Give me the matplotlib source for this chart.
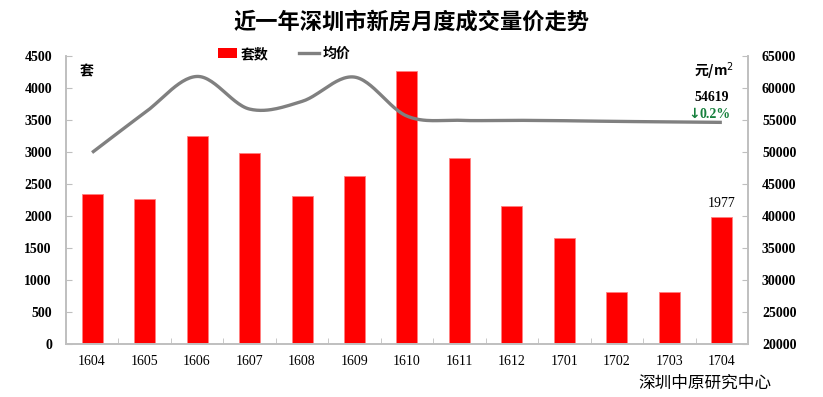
import numpy as np
import matplotlib
matplotlib.use('Agg')
import matplotlib.pyplot as plt
from matplotlib.lines import Line2D
from matplotlib.patches import Patch

plt.rcParams['font.family'] = ['Noto Sans CJK SC', 'DejaVu Sans']

# data
months = ['1604', '1605', '1606', '1607', '1608', '1609', '1610',
          '1611', '1612', '1701', '1702', '1703', '1704']
units = [2348, 2270, 3250, 2989, 2306, 2625, 4266,
         2911, 2161, 1661, 806, 806, 1977]
price = [49900, 56100, 61800, 56700, 57900, 61700, 55600,
         54940, 54940, 54880, 54770, 54700, 54619]


def smooth(xs, ys, n=30):
    # catmull-rom style smoothing, like excel's smoothed line
    xs = np.asarray(xs, float)
    ys = np.asarray(ys, float)
    px = np.concatenate([[2 * xs[0] - xs[1]], xs, [2 * xs[-1] - xs[-2]]])
    py = np.concatenate([[2 * ys[0] - ys[1]], ys, [2 * ys[-1] - ys[-2]]])
    outx, outy = [], []
    t = np.linspace(0, 1, n)
    for i in range(1, len(px) - 2):
        for p, out in ((px, outx), (py, outy)):
            p0, p1, p2, p3 = p[i - 1], p[i], p[i + 1], p[i + 2]
            out.extend(0.5 * ((2 * p1) + (-p0 + p2) * t
                              + (2 * p0 - 5 * p1 + 4 * p2 - p3) * t ** 2
                              + (-p0 + 3 * p1 - 3 * p2 + p3) * t ** 3))
    return np.array(outx), np.array(outy)


fig = plt.figure(figsize=(8.23, 3.97), dpi=100)
ax = fig.add_axes([0.080, 0.134, 0.829, 0.725])
ax2 = ax.twinx()

x = np.arange(len(months))
ax.bar(x, units, width=0.4, color='#FF0000', edgecolor='#FF8080', linewidth=0.6, zorder=2)
sx, sy = smooth(x, price)
ax2.plot(sx, sy, color='#808080', linewidth=2.4, solid_capstyle='butt', zorder=3)

ax.set_xlim(-0.5, len(months) - 0.5)
ax.set_ylim(0, 4500)
ax2.set_ylim(20000, 65000)
ax.set_yticks(np.arange(0, 4501, 500))
ax2.set_yticks(np.arange(20000, 65001, 5000))
ax.set_xticks(x)
ax.set_xticklabels(months, fontfamily='Liberation Serif', fontsize=10)
ax.set_xticks(np.arange(-0.5, len(months), 1), minor=True)

num_font = dict(family='Liberation Serif', weight='bold', size=10)
for lab in ax.get_yticklabels():
    lab.set(**num_font)
for lab in ax2.get_yticklabels():
    lab.set(**num_font)

for a in (ax, ax2):
    a.spines['top'].set_visible(False)
    for s in ('left', 'right', 'bottom'):
        a.spines[s].set_color('#BFBFBF')
        a.spines[s].set_linewidth(1.2)
ax.tick_params(axis='x', which='major', length=0, pad=8)
ax.tick_params(axis='x', which='minor', length=4, direction='in', color='#BFBFBF')
ax.tick_params(axis='y', length=4, direction='in', color='#BFBFBF', pad=10)
ax2.tick_params(axis='y', length=4, direction='in', color='#BFBFBF', pad=10)

fig.text(0.5, 0.945, '近一年深圳市新房月度成交量价走势', ha='center', va='center',
         fontsize=16, fontweight='bold')
ax.text(0.02, 0.97, '套', transform=ax.transAxes, ha='left', va='top',
        fontsize=10, fontweight='bold')
ax2.text(0.98, 0.985, '元/m$^2$', transform=ax2.transAxes, ha='right', va='top',
         fontsize=10, fontweight='bold')

ax2.text(x[-1] - 0.2, 58500, f'{price[-1]}', ha='center', va='center',
         fontfamily='Liberation Serif', fontweight='bold', fontsize=10)
ax2.text(x[-1] - 0.42, 55900, '↓', ha='right', va='center',
         fontfamily='DejaVu Sans', fontweight='bold', fontsize=10, color='#17803D')
ax2.text(x[-1] - 0.42, 55900, '0.2%', ha='left', va='center',
         fontfamily='Liberation Serif', fontweight='bold', fontsize=10, color='#17803D')
ax.text(x[-1], units[-1] + 110, f'{units[-1]}', ha='center', va='bottom',
        fontfamily='Liberation Serif', fontsize=10)

handles = [Patch(facecolor='#FF0000', edgecolor='none'),
           Line2D([0], [0], color='#808080', linewidth=2.4)]
ax.legend(handles, ['套数', '均价'], loc='upper center', bbox_to_anchor=(0.32, 1.075),
          ncol=2, frameon=False, columnspacing=2.2, handlelength=1.4,
          handletextpad=0.3, prop=dict(weight='bold', size=10))

fig.text(0.856, 0.035, '深圳中原研究中心', ha='center', va='center', fontsize=12)

fig.savefig('out.png', dpi=100)
